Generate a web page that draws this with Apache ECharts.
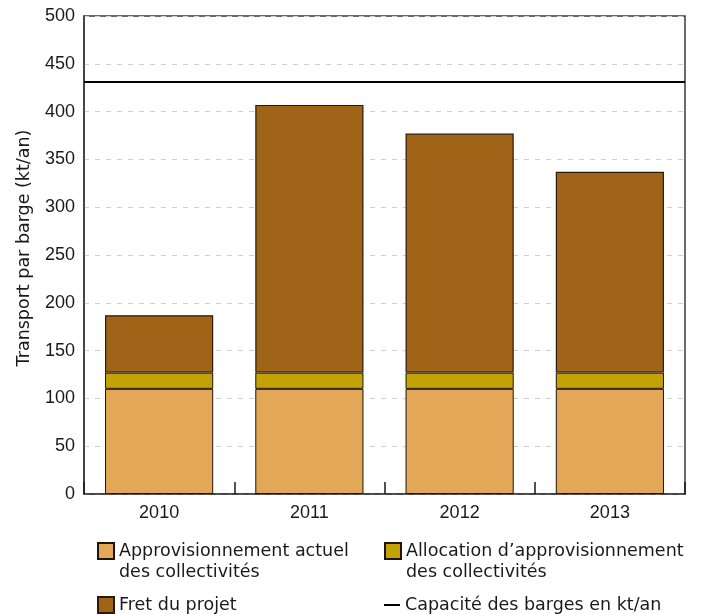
<!DOCTYPE html>
<html>
<head>
<meta charset="utf-8">
<script src="https://cdn.jsdelivr.net/npm/echarts@6/dist/echarts.min.js"></script>
<style>
  html, body { margin: 0; padding: 0; background: #fff; }
  #chart { width: 702px; height: 614px; }
</style>
</head>
<body>
<div id="chart"></div>
<script>
// Barge transport per year, kt/an
const years = ['2010', '2011', '2012', '2013'];
const approvisionnementActuel = [110, 110, 110, 110];
const allocationApprovisionnement = [17, 17, 17, 17];
const fretProjet = [60, 280, 250, 210];
const capaciteBarges = 431;

const seriesNames = [
  'Approvisionnement actuel des collectivités',
  'Allocation d’approvisionnement des collectivités',
  'Fret du projet',
  'Capacité des barges en kt/an'
];
const legendLabels = {
  'Approvisionnement actuel des collectivités': ['Approvisionnement actuel', 'des collectivités'],
  'Allocation d’approvisionnement des collectivités': ['Allocation d’approvisionnement', 'des collectivités'],
  'Fret du projet': ['Fret du projet'],
  'Capacité des barges en kt/an': ['Capacité des barges en kt/an']
};

const TEXT_FONT = '"DejaVu Sans", Verdana, sans-serif';
const NUM_FONT = '"Liberation Sans", Arial, sans-serif';
const LINE_H = 21;
const chart = echarts.init(document.getElementById('chart'));

// One legend block per entry. A spacer row above a two-line label puts its
// first line level with the swatch, since the text block is centred on it.
function legendAt(name, left, top, opts) {
  const lines = legendLabels[name];
  const extra = lines.length - 1;
  const rows = [];
  for (let i = 0; i < extra; i++) rows.push('{s| }');
  lines.forEach(l => rows.push('{t|' + l + '}'));
  return Object.assign({
    data: [name],
    left: left,
    top: top,
    padding: 0,
    orient: 'vertical',
    itemWidth: 16,
    itemHeight: 16,
    itemGap: 0,
    icon: 'rect',
    selectedMode: false,
    formatter: () => rows.join('\n'),
    textStyle: {
      fontFamily: TEXT_FONT, fontSize: 17.5, color: '#1a1a1a',
      rich: {
        t: { fontFamily: TEXT_FONT, fontSize: 17.5, color: '#1a1a1a', lineHeight: LINE_H },
        s: { fontSize: 10, lineHeight: LINE_H }
      }
    }
  }, opts || {});
}

const barBase = {
  type: 'bar',
  stack: 'total',
  barWidth: '72%',
  emphasis: { disabled: true }
};

chart.setOption({
  animation: false,
  grid: {
    left: 84, right: 17, top: 16, bottom: 120,
    show: true, borderColor: '#3a3a3a', borderWidth: 1.5, backgroundColor: 'transparent'
  },
  legend: [
    legendAt(seriesNames[0], 97, 525),
    legendAt(seriesNames[1], 384, 525),
    legendAt(seriesNames[2], 97, 596),
    legendAt(seriesNames[3], 384, 596, { itemHeight: 2, itemWidth: 16 })
  ],
  xAxis: {
    type: 'category',
    data: years,
    axisLine: { lineStyle: { color: '#3a3a3a', width: 1.5 } },
    axisTick: { show: true, inside: true, length: 12, lineStyle: { color: '#1a1a1a', width: 1.5 } },
    axisLabel: { fontFamily: NUM_FONT, fontSize: 18, color: '#1a1a1a', margin: 10 }
  },
  yAxis: {
    type: 'value',
    min: 0, max: 500, interval: 50,
    name: 'Transport par barge (kt/an)',
    nameLocation: 'middle',
    nameGap: 51,
    nameTextStyle: { fontFamily: TEXT_FONT, fontSize: 17.5, color: '#1a1a1a', padding: [0, 0, 0, 14] },
    axisLine: { show: true, lineStyle: { color: '#3a3a3a', width: 1.5 } },
    axisTick: { show: false },
    axisLabel: { fontFamily: NUM_FONT, fontSize: 18, color: '#1a1a1a', margin: 9 },
    splitLine: { lineStyle: { color: '#cfcfcf', type: [5, 6], width: 1 } }
  },
  series: [
    Object.assign({}, barBase, {
      name: seriesNames[0],
      data: approvisionnementActuel,
      itemStyle: { color: '#E3A857', borderColor: '#1e1408', borderWidth: 1 }
    }),
    Object.assign({}, barBase, {
      name: seriesNames[1],
      data: allocationApprovisionnement,
      itemStyle: { color: '#C4A106', borderColor: '#1e1408', borderWidth: 1 }
    }),
    Object.assign({}, barBase, {
      name: seriesNames[2],
      data: fretProjet,
      itemStyle: { color: '#A06418', borderColor: '#2a1a05', borderWidth: 1.2 }
    }),
    {
      name: seriesNames[3],
      type: 'line',
      data: [null, null, null, null],
      symbol: 'none',
      itemStyle: { color: '#000' },
      lineStyle: { color: '#000', width: 2 },
      markLine: {
        silent: true,
        symbol: 'none',
        label: { show: false },
        lineStyle: { color: '#000', width: 2, type: 'solid' },
        data: [{ yAxis: capaciteBarges }]
      }
    }
  ]
});
</script>
</body>
</html>
